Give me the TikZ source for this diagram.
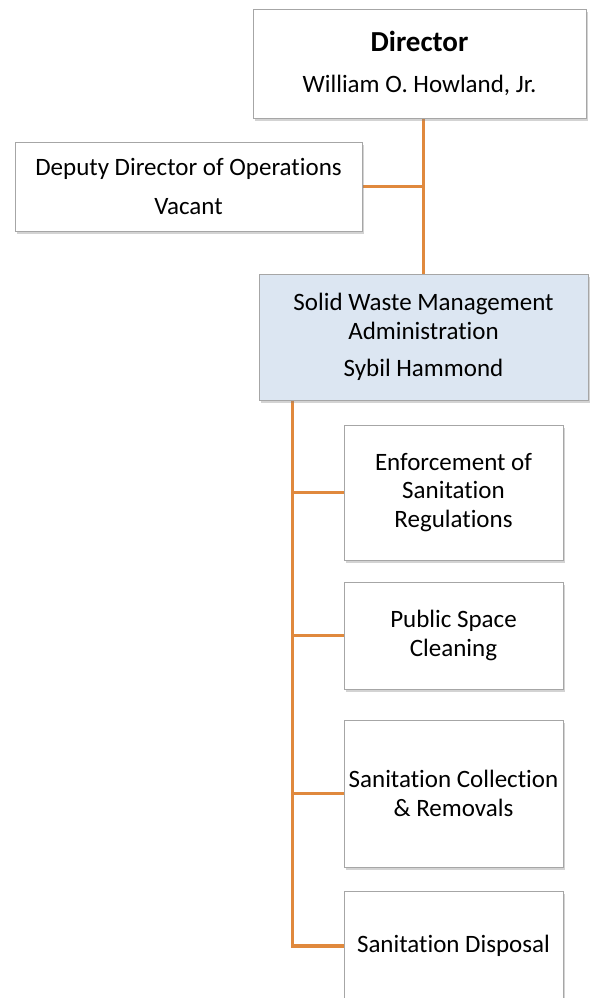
\documentclass[tikz,border=0pt]{standalone}
\usepackage{fontspec}
\setmainfont{Carlito}[Ligatures={NoCommon,NoContextual}]
\usetikzlibrary{shadows,backgrounds}
\definecolor{linkorange}{HTML}{E0893D}
\definecolor{boxgray}{HTML}{A6A6A6}
\definecolor{adminblue}{HTML}{DCE6F2}

\begin{document}
\begin{tikzpicture}[x=1pt,y=-1pt,
  box/.style={draw=boxgray,fill=white,line width=0.8pt,align=center,inner sep=0pt,
    font=\fontsize{25}{28.5}\selectfont,
    drop shadow={opacity=0.35,shadow xshift=2pt,shadow yshift=-3pt}},
  link/.style={draw=linkorange,line width=3.3pt}]

  \useasboundingbox (0,0) rectangle (595,998);
  \clip (0,0) rectangle (595,998);

  \node[box,minimum width=333pt,minimum height=109pt]	(Director) at (419.5,63.5)
	{{\fontsize{29}{30}\selectfont\bfseries Director}\\[13pt]William O. Howland, Jr.};
  \node[box,minimum width=347pt,minimum height=89pt]	(Deputy) at (188.5,186.5)
	{Deputy Director of Operations\\[10pt]Vacant};
  \node[box,fill=adminblue,minimum width=329pt,minimum height=126pt]	(SWMA) at (423.5,337)
	{Solid Waste Management\\Administration\\[9pt]Sybil Hammond};
  \node[box,minimum width=219pt,minimum height=135pt]	(Enforcement) at (453.5,492.5)
	{Enforcement of\\Sanitation\\Regulations};
  \node[box,minimum width=219pt,minimum height=107pt]	(Cleaning) at (453.5,635.5)
	{Public Space\\Cleaning};
  \node[box,minimum width=219pt,minimum height=147pt]	(Collection) at (453.5,793.5)
	{Sanitation Collection\\\& Removals};
  \node[box,minimum width=219pt,minimum height=110pt]	(Disposal) at (453.5,946)
	{Sanitation Disposal};

  \coordinate (Trunk) at ([xshift=34pt]SWMA.south west);

  % orange links behind the boxes
  \begin{scope}[on background layer]
  \path[link]
	(Director.south -| SWMA.north) -- (SWMA.north)
	(Deputy.east) -- (Deputy.east -| SWMA.north)
	(Trunk) |- (Disposal.west)
	(Enforcement.west) -- (Enforcement.west -| Trunk)
	(Cleaning.west) -- (Cleaning.west -| Trunk)
	(Collection.west) -- (Collection.west -| Trunk);
  \end{scope}

\end{tikzpicture}
\end{document}
